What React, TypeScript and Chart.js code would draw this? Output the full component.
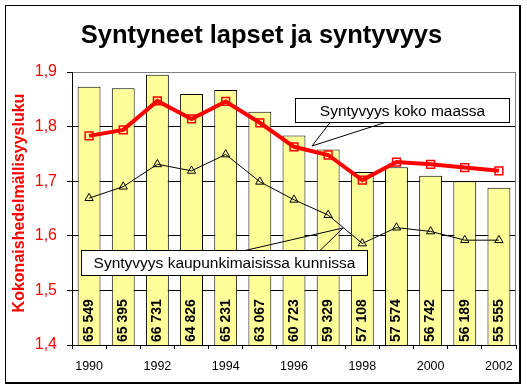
import { useEffect, useRef } from 'react';
import { Chart, registerables } from 'chart.js';

Chart.register(...registerables);

const FONT = '"Liberation Sans", Arial, Helvetica, sans-serif';

const years = ['1990', '1991', '1992', '1993', '1994', '1995', '1996', '1997', '1998', '1999', '2000', '2001', '2002'];
const births = [65549, 65395, 66731, 64826, 65231, 63067, 60723, 59329, 57108, 57574, 56742, 56189, 55555];
const tfrWhole = [1.783, 1.794, 1.847, 1.814, 1.846, 1.807, 1.763, 1.748, 1.702, 1.735, 1.731, 1.725, 1.719];
const tfrUrban = [1.669, 1.69, 1.731, 1.719, 1.749, 1.699, 1.666, 1.638, 1.586, 1.615, 1.608, 1.592, 1.592];

const titleText = 'Syntyneet lapset ja syntyvyys';
const yTitle = 'Kokonaishedelmällisyysluku';
const seriesWhole = 'Syntyvyys koko maassa';
const seriesUrban = 'Syntyvyys kaupunkimaisissa kunnissa';
const seriesBirths = 'Syntyneet lapset';

// callouts: box [xFrom, xTo, yTop, yBottom] in scale units, base x positions on box edge, tip (x index, y value)
const callouts = [
  { text: seriesWhole, box: [6.03, 12.3, 1.8524, 1.8084], baseEdge: 'bottom', base: [7.055, 8.666], tip: [6.528, 1.7645] },
  { text: seriesUrban, box: [-0.2365, 8.138, 1.574, 1.5282], baseEdge: 'top', base: [4.566, 6.762], tip: [7.436, 1.6143] },
];

const fmt = (n: number) => `${Math.floor(n / 1000)} ${String(n % 1000).padStart(3, '0')}`;

export default function App() {
  const ref = useRef<HTMLCanvasElement>(null);

  useEffect(() => {
    const canvas = ref.current!;
    const decor = {
      id: 'decor',
      afterDatasetsDraw(chart: any) {
        const ctx = chart.ctx as CanvasRenderingContext2D;
        const xs = chart.scales.x;
        const ys = chart.scales.y;
        const bottom = chart.scales.y1.getPixelForValue(chart.scales.y1.min);
        // bar value labels
        births.forEach((v, i) => {
          const x = xs.getPixelForValue(i);
          ctx.save();
          ctx.translate(x, bottom - 3);
          ctx.rotate(-Math.PI / 2);
          ctx.font = `bold 14px ${FONT}`;
          ctx.fillStyle = '#000000';
          ctx.textAlign = 'left';
          ctx.textBaseline = 'middle';
          ctx.fillText(fmt(v), 0, 0);
          ctx.restore();
        });
        // callouts
        callouts.forEach((c) => {
          const l = Math.round(xs.getPixelForValue(c.box[0])) + 0.5;
          const r = Math.round(xs.getPixelForValue(c.box[1])) + 0.5;
          const t = Math.round(ys.getPixelForValue(c.box[2])) + 0.5;
          const b = Math.round(ys.getPixelForValue(c.box[3])) + 0.5;
          const ey = c.baseEdge === 'bottom' ? b : t;
          const tx = xs.getPixelForValue(c.tip[0]);
          const ty = ys.getPixelForValue(c.tip[1]);
          ctx.save();
          ctx.strokeStyle = '#000';
          ctx.lineWidth = 1;
          ctx.beginPath();
          ctx.moveTo(xs.getPixelForValue(c.base[0]), ey);
          ctx.lineTo(tx, ty);
          ctx.lineTo(xs.getPixelForValue(c.base[1]), ey);
          ctx.stroke();
          ctx.fillStyle = '#fff';
          ctx.fillRect(l, t, r - l, b - t);
          ctx.strokeRect(l, t, r - l, b - t);
          ctx.fillStyle = '#000';
          ctx.font = `15.5px ${FONT}`;
          ctx.textAlign = 'center';
          ctx.textBaseline = 'middle';
          ctx.fillText(c.text, (l + r) / 2, (t + b) / 2 + 1);
          ctx.restore();
        });
      },
      afterDraw(chart: any) {
        const ctx = chart.ctx as CanvasRenderingContext2D;
        const ca = chart.chartArea;
        ctx.save();
        // plot area right border (grey)
        ctx.strokeStyle = '#808080';
        ctx.lineWidth = 1;
        ctx.beginPath();
        ctx.moveTo(Math.round(ca.right) - 0.5, Math.round(ca.top));
        ctx.lineTo(Math.round(ca.right) - 0.5, Math.round(ca.bottom));
        ctx.stroke();
        // outer frame
        ctx.fillStyle = '#000';
        ctx.fillRect(5, 5, 516, 1);
        ctx.fillRect(5, 5, 1, 379);
        ctx.fillRect(519, 5, 2, 379);
        ctx.fillRect(5, 382, 516, 2);
        // title
        ctx.font = `bold 25.5px ${FONT}`;
        ctx.textAlign = 'center';
        ctx.textBaseline = 'alphabetic';
        ctx.fillText(titleText, 261.5, 43);
        // y title
        ctx.translate(20, 203);
        ctx.rotate(-Math.PI / 2);
        ctx.font = `bold 16px ${FONT}`;
        ctx.fillStyle = '#FF0000';
        ctx.textBaseline = 'middle';
        ctx.fillText(yTitle, 0, 0);
        ctx.restore();
      },
    };

    const chart = new Chart(canvas, {
      type: 'bar',
      data: {
        labels: years,
        datasets: [
          {
            type: 'line',
            label: seriesWhole,
            data: tfrWhole,
            yAxisID: 'y',
            borderColor: '#FF0000',
            borderWidth: 4,
            pointStyle: 'rect',
            pointRadius: 5.5,
            pointBorderColor: '#FF0000',
            pointBackgroundColor: 'rgba(0,0,0,0)',
            pointBorderWidth: 1.5,
            tension: 0,
            order: 1,
          } as any,
          {
            type: 'line',
            label: seriesUrban,
            data: tfrUrban,
            yAxisID: 'y',
            borderColor: '#000',
            borderWidth: 1,
            pointStyle: 'triangle',
            pointRadius: 4.8,
            pointBorderColor: '#000',
            pointBackgroundColor: 'rgba(0,0,0,0)',
            pointBorderWidth: 1,
            tension: 0,
            order: 2,
          } as any,
          {
            type: 'bar',
            label: seriesBirths,
            data: births,
            yAxisID: 'y1',
            backgroundColor: '#FFFF99',
            borderColor: '#000',
            borderWidth: 1,
            barPercentage: 0.67,
            categoryPercentage: 1,
            order: 3,
          } as any,
        ],
      },
      options: {
        responsive: false,
        animation: false,
        layout: { padding: { top: 72, right: 11, left: 0, bottom: 0 } },
        plugins: {
          legend: { display: false },
          tooltip: { enabled: false },
          title: { display: false },
        },
        scales: {
          x: {
            grid: {
              offset: true,
              drawOnChartArea: false,
              drawTicks: true,
              tickLength: 4,
              color: '#000',
              tickColor: '#000',
            },
            border: { display: true, color: '#000', width: 1 },
            ticks: {
              autoSkip: false,
              maxRotation: 0,
              minRotation: 0,
              padding: 10,
              color: '#000',
              font: { family: FONT, size: 12.5 },
              callback: (_v: any, i: number) => (i % 2 === 0 ? years[i] : ''),
            },
            afterFit: (s: any) => {
              s.height = 45;
            },
          },
          y: {
            position: 'left',
            min: 1.4,
            max: 1.9,
            grid: {
              color: (c: any) => (Math.abs(c.tick.value - 1.9) < 1e-6 ? '#808080' : '#000'),
              tickColor: '#000',
              tickLength: 5,
              drawTicks: true,
            },
            border: { display: true, color: '#000', width: 1 },
            ticks: {
              stepSize: 0.1,
              padding: 10,
              color: '#FF0000',
              font: { family: FONT, size: 16 },
              callback: (v: any) => Number(v).toFixed(1).replace('.', ','),
            },
            afterFit: (s: any) => {
              s.width = 72;
            },
          },
          y1: {
            display: false,
            position: 'right',
            min: 40000,
            max: 67000,
          },
        },
      },
      plugins: [decor],
    } as any);

    return () => chart.destroy();
  }, []);

  return (
    <div style={{ position: 'fixed', left: 0, top: 0, width: 527, height: 390, background: '#fff' }}>
      <canvas ref={ref} width={527} height={390} style={{ display: 'block', width: 527, height: 390 }} />
    </div>
  );
}
